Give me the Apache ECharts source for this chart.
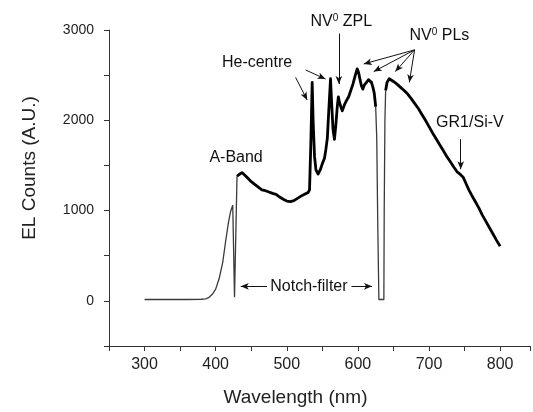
<!DOCTYPE html>
<html>
<head>
<meta charset="utf-8">
<script src="https://cdn.jsdelivr.net/npm/echarts@6/dist/echarts.min.js"></script>
<style>html,body{margin:0;padding:0;background:#fff}#c{width:533px;height:412px}</style>
</head>
<body>
<div id="c"></div>
<script>
// Segment A: thin rising edge + first notch (nm, counts)
const wlA = [300, 320, 340, 360, 380, 386, 390, 395, 400, 405, 410, 414, 418, 421, 424, 425.5, 426.5, 429, 430];
const elA = [15, 15, 15, 15, 18, 22, 35, 70, 130, 250, 430, 660, 870, 990, 1060, 1070, 40, 40, 1380];
// Segment B: thick spectrum 430-625 nm
const wlB = [430, 433, 437, 440, 445, 450, 455, 460, 465, 470, 475, 480, 485, 490, 495, 500, 505, 510, 515, 520, 525, 530, 532, 534, 535.7, 537, 539, 541, 544, 547, 550, 553, 555, 557, 559, 561.5, 563, 565, 567, 569, 571, 572.5, 574, 576, 578, 581, 584, 587, 590, 593, 596, 599, 601, 603, 605, 607, 609, 612, 615, 617, 619, 621, 623, 625];
const elB = [1380, 1400, 1420, 1400, 1360, 1320, 1290, 1260, 1230, 1220, 1205, 1190, 1180, 1150, 1125, 1105, 1100, 1110, 1135, 1160, 1180, 1200, 1230, 1800, 2420, 2000, 1600, 1450, 1405, 1450, 1520, 1580, 1680, 1800, 2100, 2460, 2200, 1900, 1790, 1950, 2150, 2260, 2200, 2150, 2105, 2170, 2220, 2260, 2330, 2400, 2490, 2570, 2530, 2450, 2380, 2345, 2390, 2420, 2450, 2460, 2420, 2370, 2300, 2150];
// Segment N: thin second notch
const wlN = [625, 626.5, 628, 629.5, 636.5, 637, 638, 639];
const elN = [2150, 1800, 800, 15, 15, 1000, 2000, 2330];
// Segment C: thick spectrum 639-800 nm
const wlC = [639, 641, 644, 646, 650, 655, 660, 665, 670, 675, 680, 685, 690, 695, 700, 705, 710, 715, 720, 725, 730, 735, 740, 744, 748, 752, 756, 760, 765, 770, 775, 780, 785, 790, 795, 800];
const elC = [2330, 2420, 2460, 2470, 2430, 2400, 2365, 2330, 2290, 2240, 2185, 2130, 2065, 2000, 1930, 1860, 1795, 1730, 1665, 1600, 1540, 1480, 1425, 1400, 1370, 1300, 1230, 1170, 1100, 1030, 950, 880, 810, 740, 670, 605];

// annotation texts (data coordinates of centres)
const noteText = ['A-Band', 'He-centre', 'NV{s|0} ZPL', 'NV{s|0} PLs', 'GR1/Si-V', 'Notch-filter'];
const noteX = [428.7, 458.2, 576.7, 714.7, 757.5, 531.1];
const noteY = [1583, 2639, 3094, 2939, 1972, 161];
// arrows: from (x1,y1) to (x2,y2) in data units
const arrowX1 = [512.4, 526.5, 573.2, 679.7, 679.7, 679.7, 679.7, 744.6, 472.2, 591.0];
const arrowY1 = [2475, 2557, 2961, 2780, 2780, 2780, 2780, 1791, 161, 161];
const arrowX2 = [528.7, 554.5, 573.2, 608.2, 622.2, 652.6, 672.3, 744.6, 435.3, 619.8];
const arrowY2 = [2224, 2457, 2402, 2624, 2539, 2539, 2420, 1458, 161, 161];

const zip = (a, b) => a.map((v, i) => [v, b[i]]);
const FONT = 'Liberation Sans, Arial, sans-serif';
const chart = echarts.init(document.getElementById('c'));

const arrowData = arrowX1.map((x, i) => [{coord: [x, arrowY1[i]]}, {coord: [arrowX2[i], arrowY2[i]]}]);

const thin = {type: 'line', showSymbol: false, symbol: 'none', lineStyle: {color: '#3a3a3a', width: 1.3}, silent: true, z: 3};
const thick = {type: 'line', showSymbol: false, symbol: 'none', lineStyle: {color: '#000', width: 2.8, join: 'round'}, silent: true, z: 4};

chart.setOption({
  animation: false,
  textStyle: {fontFamily: FONT},
  grid: {left: 109, top: 30, right: 0, height: 316},
  xAxis: {
    type: 'value', min: 250, max: 842, interval: 50,
    axisLine: {onZero: false, lineStyle: {color: '#333', width: 1}},
    axisTick: {length: 5, lineStyle: {color: '#333'}},
    axisLabel: {formatter: v => (v % 100 === 0 && v >= 300 && v <= 800) ? String(v) : '', fontSize: 16, color: '#222', margin: 11},
    splitLine: {show: false},
    name: 'Wavelength (nm)', nameLocation: 'middle', nameGap: 42,
    nameTextStyle: {fontSize: 19, color: '#222', padding: [0, 48, 0, 0]}
  },
  yAxis: {
    type: 'value', min: -500, max: 3000, interval: 500,
    axisLine: {show: true, onZero: false, lineStyle: {color: '#333', width: 1}},
    axisTick: {show: true, length: 5, lineStyle: {color: '#333'}},
    axisLabel: {formatter: v => (v % 1000 === 0) ? String(v) : '', fontSize: 14, color: '#222', margin: 15},
    splitLine: {show: false},
    name: 'EL Counts (A.U.)', nameLocation: 'middle', nameRotate: 90, nameGap: 70,
    nameTextStyle: {fontSize: 19, color: '#222', padding: [0, 0, 0, 40]}
  },
  series: [
    Object.assign({}, thin, {
      data: zip(wlA, elA),
      markLine: {
        silent: true, animation: false,
        symbol: ['none', 'arrow'], symbolSize: [5, 8],
        lineStyle: {color: '#111', width: 1, type: 'solid'},
        label: {show: false},
        data: arrowData
      }
    }),
    Object.assign({}, thick, {data: zip(wlB, elB)}),
    Object.assign({}, thin, {data: zip(wlN, elN)}),
    Object.assign({}, thick, {data: zip(wlC, elC)})
  ]
});

const graphics = noteText.map((t, i) => {
  const p = chart.convertToPixel({gridIndex: 0}, [noteX[i], noteY[i]]);
  return {
    type: 'text', x: p[0], y: p[1], silent: true, z: 10,
    style: {
      text: t, fill: '#111', font: '16px ' + FONT,
      align: 'center', verticalAlign: 'middle',
      rich: {s: {fontSize: 10, verticalAlign: 'top', padding: [0, 0, 6, 0], fill: '#111', fontFamily: FONT}}
    }
  };
});
chart.setOption({graphic: graphics});
</script>
</body>
</html>
